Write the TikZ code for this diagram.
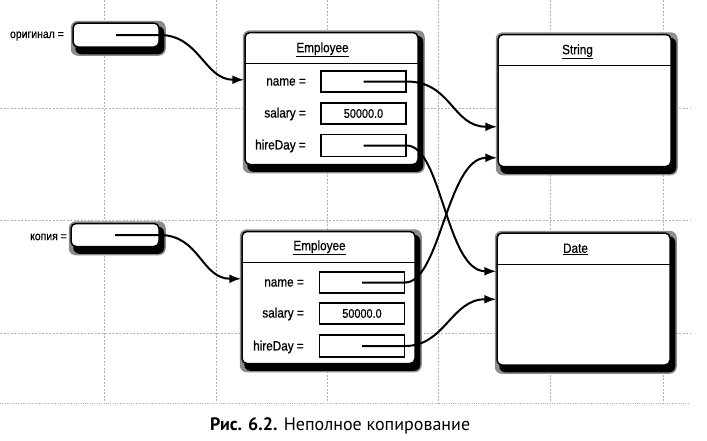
\documentclass[tikz,border=0pt]{standalone}
\usepackage{fontspec}
\setmainfont{Liberation Sans}
\newfontfamily\lblfont[FakeStretch=0.87,FakeBold=0.6]{Liberation Sans}
\newfontfamily\capfont{PT Sans}
\usetikzlibrary{arrows.meta,calc}
\pgfdeclarelayer{gridlayer}
\pgfdeclarelayer{shadowlayer}
\pgfsetlayers{gridlayer,shadowlayer,main}
\newcommand\objshadow[1]{%
  \fill[black!45, rounded corners=7pt] ($(#1.north west)+(-1.5,-1.5)$) rectangle ($(#1.south east)+(6,8)$);
  \fill[black, rounded corners=6pt] ($(#1.north west)+(3,4)$) rectangle ($(#1.south east)+(4.5,6.5)$);
}
\newcommand\headline[1]{%
  \draw[line width=1.1pt] ($(#1.north west)+(0,32)$) -- ($(#1.north east)+(0,32)$);
}
\begin{document}
\begin{tikzpicture}[x=1pt,y=-1pt,
  gridline/.style={gray!60, line width=0.5pt, dash pattern=on 2pt off 1.5pt},
  objbox/.style={draw, line width=1.5pt, rounded corners=5pt, fill=white, inner sep=0pt, rectangle},
  varbox/.style={objbox, minimum width=86pt, minimum height=24pt},
  classbox/.style={objbox, minimum width=173pt, minimum height=132pt},
  field/.style={draw, line width=1.3pt, fill=white, inner sep=0pt, minimum width=85pt, minimum height=21pt, font=\lblfont\fontsize{12.5}{14}\selectfont},
  lbl/.style={anchor=east, inner sep=0pt, font=\lblfont\fontsize{13.5}{15}\selectfont},
  vlbl/.style={anchor=east, inner sep=0pt, font=\lblfont\fontsize{12}{14}\selectfont},
  titletext/.style={inner sep=0pt, font=\lblfont\fontsize{13.5}{15}\selectfont},
  link/.style={line width=2pt, -{Latex[length=12pt,width=9pt]}},
]
\useasboundingbox (0,0) rectangle (707,440);

% grid
\begin{pgfonlayer}{gridlayer}
  \foreach \x in {104,216,327,438,550,663} \draw[gridline] (\x,0) -- (\x,403);
  \foreach \y in {108,220,333} \draw[gridline] (0,\y) -- (690,\y);
  \draw[gridline, dash pattern=on 0.8pt off 1.5pt] (0,403) -- (690,403);
\end{pgfonlayer}

% variables
\node[varbox] (orig) at (116,35) {};
\node[vlbl] (origlbl) at (64,36) {оригинал =};
\node[varbox, minimum width=88pt, minimum height=23pt] (copy) at (115,235) {};
\node[vlbl] (copylbl) at (67,237) {копия =};

% objects
\node[classbox] (emp1) at (331.5,98.5) {};
\node[classbox] (emp2) at (328.5,297.5) {};
\node[classbox] (str) at (584.5,100.5) {};
\node[classbox] (date) at (583.5,299) {};

\begin{pgfonlayer}{shadowlayer}
  \objshadow{orig}
  \objshadow{copy}
  \objshadow{emp1}
  \objshadow{emp2}
  \objshadow{str}
  \objshadow{date}
\end{pgfonlayer}

\headline{emp1}
\headline{emp2}
\headline{str}
\headline{date}

\node[titletext] (emp1t) at ($(emp1.north)+(-9,18)$) {\underline{Employee}};
\node[titletext] (emp2t) at ($(emp2.north)+(-9,17)$) {\underline{Employee}};
\node[titletext] (strt) at ($(str.north)+(-7,18)$) {\underline{String}};
\node[titletext] (datet) at ($(date.north)+(-8,17)$) {\underline{Date}};

% fields of first Employee
\node[field] (n1) at (363.5,81.5) {};
\node[field] (s1) at (363.5,113.5) {50000.0};
\node[field, minimum height=22pt] (h1) at (363.5,145.5) {};
\node[lbl] (n1l) at (306,82) {name =};
\node[lbl] (s1l) at (306,114) {salary =};
\node[lbl] (h1l) at (306,146) {hireDay =};

% fields of second Employee
\node[field] (n2) at (362,282.5) {};
\node[field] (s2) at (362,313.5) {50000.0};
\node[field, minimum height=22pt] (h2) at (362,346) {};
\node[lbl] (n2l) at (304,283) {name =};
\node[lbl] (s2l) at (304,314) {salary =};
\node[lbl] (h2l) at (304,347) {hireDay =};

% arrow targets
\coordinate (e1in) at ($(emp1.north west)+(0,48)$);
\coordinate (e2in) at ($(emp2.north west)+(0,48)$);
\coordinate (sin1) at ($(str.north west)+(0,93)$);
\coordinate (sin2) at ($(str.north west)+(0,124)$);
\coordinate (din1) at ($(date.north west)+(0,39)$);
\coordinate (din2) at ($(date.north west)+(0,67)$);

% connectors
\draw[link] (orig.center) -- (orig.east) .. controls +(40,0) and +(-40,0) .. (e1in);
\draw[link] (copy.center) -- (copy.east) .. controls +(40,0) and +(-40,0) .. (e2in);
\draw[link] (n1.center) -- (n1.east) .. controls +(45,0) and +(-45,0) .. (sin1);
\draw[link] (h1.center) -- (h1.east) .. controls +(35,0) and +(-50,0) .. (din1);
\draw[link] (n2.center) -- (n2.east) .. controls +(35,0) and +(-50,0) .. (sin2);
\draw[link] (h2.center) -- (h2.east) .. controls +(40,0) and +(-45,0) .. (din2);

% caption
\node[anchor=base west, inner sep=0pt, font=\capfont\fontsize{18}{20}\selectfont] (cap) at (210,430) {\textbf{Рис. 6.2.} Неполное копирование};
\end{tikzpicture}
\end{document}
